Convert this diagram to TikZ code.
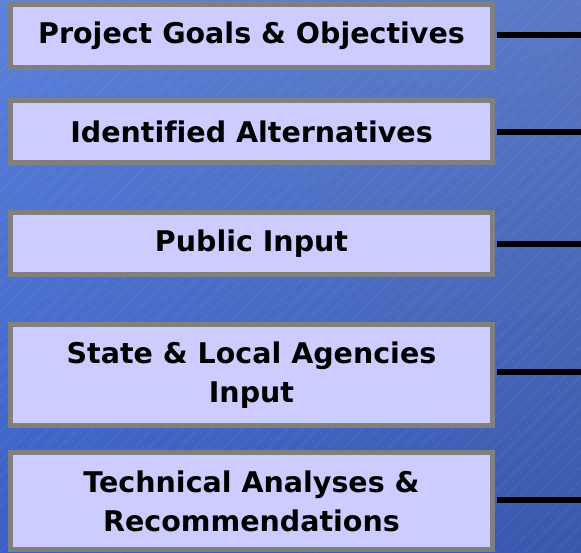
\documentclass[tikz,border=0pt]{standalone}
\usepackage{fontspec}
\setmainfont[Ligatures=NoCommon]{DejaVu Sans}
\usetikzlibrary{shadings}
\definecolor{bgUL}{HTML}{5C82DA}
\definecolor{bgUR}{HTML}{5A78C4}
\definecolor{bgLL}{HTML}{3A5FC6}
\definecolor{bgLR}{HTML}{3858AC}
\definecolor{boxfill}{HTML}{CCCCFF}
\definecolor{boxline}{HTML}{808080}
\tikzset{
  x=1pt, y=-1pt,
  goalbox/.style={draw=boxline, fill=boxfill, line width=5pt, minimum width=482pt,
    inner sep=0pt, align=center, font=\fontsize{28.5}{39}\selectfont\bfseries, text=black},
  link/.style={draw=black, line width=5.5pt}
}
\begin{document}
\begin{tikzpicture}
\useasboundingbox (0,0) rectangle (581,552);
\shade[upper left=bgUL, upper right=bgUR, lower left=bgLL, lower right=bgLR] (0,0) rectangle (581,552);
\begin{scope}
\clip (0,0) rectangle (581,552);
\foreach \i in {-600,-585,...,600} {
  \draw[white, opacity=0.04, line width=2pt] (\i,552) -- (\i+552,0);
}
\end{scope}
\node[goalbox, minimum height=63pt] (b1) at (251.5,36) {Project Goals \& Objectives};
\node[goalbox, minimum height=62pt] (b2) at (251.5,131.5) {Identified Alternatives};
\node[goalbox, minimum height=62pt] (b3) at (251.5,243.5) {Public Input};
\node[goalbox, minimum height=101pt] (b4) at (251.5,375) {State \& Local Agencies\\Input};
\node[goalbox, minimum height=97pt] (b5) at (251.5,501) {Technical Analyses \&\\Recommendations};
\coordinate (e1) at (581,35);
\coordinate (e2) at (581,132);
\coordinate (e3) at (581,244);
\coordinate (e4) at (581,372);
\coordinate (e5) at (581,500);
\draw[link] (b1.east |- e1) ++(2,0) -- (e1);
\draw[link] (b2.east |- e2) ++(2,0) -- (e2);
\draw[link] (b3.east |- e3) ++(2,0) -- (e3);
\draw[link] (b4.east |- e4) ++(2,0) -- (e4);
\draw[link] (b5.east |- e5) ++(2,0) -- (e5);
\end{tikzpicture}
\end{document}
